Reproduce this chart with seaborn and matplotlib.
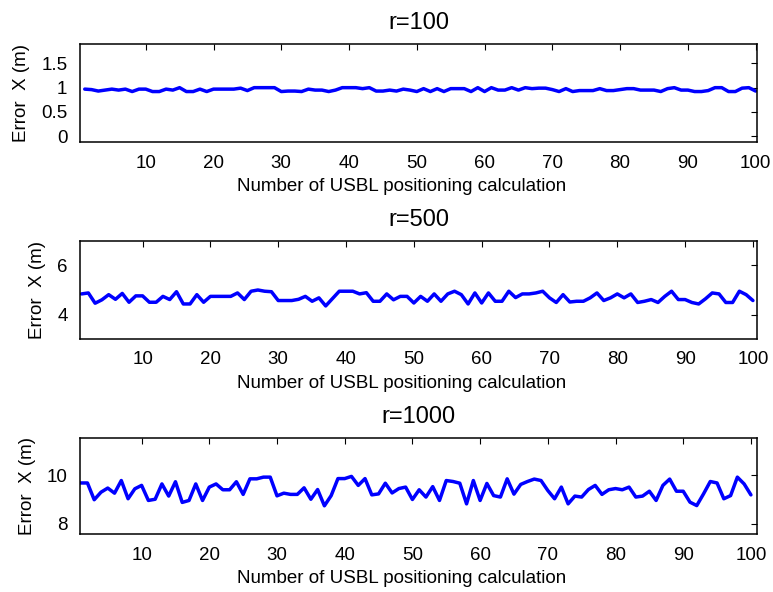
import numpy as np
import pandas as pd
import matplotlib
matplotlib.use('Agg')
import matplotlib.pyplot as plt
import seaborn as sns

# Error in X for each range
calc_index = list(range(1, 101))

error_r100 = [
    0.97, 0.96, 0.93, 0.95, 0.97, 0.95, 0.97, 0.92, 0.97, 0.97,
    0.92, 0.92, 0.97, 0.95, 1.00, 0.92, 0.92, 0.97, 0.92, 0.97,
    0.97, 0.97, 0.97, 0.99, 0.94, 1.00, 1.00, 1.00, 1.00, 0.92,
    0.93, 0.93, 0.92, 0.97, 0.95, 0.95, 0.92, 0.95, 1.00, 1.00,
    1.00, 0.98, 1.00, 0.93, 0.93, 0.95, 0.93, 0.97, 0.95, 0.92,
    0.98, 0.92, 0.98, 0.92, 0.98, 0.98, 0.98, 0.92, 1.00, 0.92,
    1.00, 0.95, 0.95, 1.00, 0.95, 1.00, 0.98, 0.99, 0.99, 0.96,
    0.92, 0.98, 0.92, 0.94, 0.94, 0.94, 0.98, 0.94, 0.94, 0.96,
    0.98, 0.98, 0.95, 0.95, 0.95, 0.92, 0.98, 1.00, 0.95, 0.95,
    0.92, 0.92, 0.94, 1.00, 1.00, 0.92, 0.92, 0.99, 1.00, 0.93,
]

error_r500 = [
    4.84, 4.88, 4.46, 4.60, 4.81, 4.62, 4.86, 4.50, 4.76, 4.76,
    4.50, 4.50, 4.74, 4.61, 4.93, 4.43, 4.43, 4.81, 4.50, 4.74,
    4.74, 4.74, 4.74, 4.88, 4.61, 4.95, 5.00, 4.95, 4.93, 4.57,
    4.57, 4.57, 4.62, 4.74, 4.54, 4.68, 4.35, 4.65, 4.95, 4.95,
    4.95, 4.84, 4.89, 4.54, 4.54, 4.84, 4.60, 4.74, 4.74, 4.47,
    4.74, 4.54, 4.84, 4.54, 4.84, 4.95, 4.81, 4.43, 4.88, 4.47,
    4.88, 4.54, 4.54, 4.95, 4.69, 4.84, 4.84, 4.88, 4.95, 4.68,
    4.49, 4.81, 4.51, 4.54, 4.54, 4.68, 4.88, 4.57, 4.68, 4.84,
    4.68, 4.84, 4.49, 4.54, 4.61, 4.49, 4.74, 4.95, 4.61, 4.61,
    4.49, 4.43, 4.64, 4.88, 4.84, 4.49, 4.49, 4.95, 4.81, 4.57,
]

error_r1000 = [
    9.68, 9.68, 8.99, 9.30, 9.47, 9.26, 9.78, 9.03, 9.44, 9.58,
    8.96, 9.01, 9.64, 9.14, 9.73, 8.88, 8.96, 9.64, 8.96, 9.51,
    9.64, 9.40, 9.40, 9.73, 9.21, 9.85, 9.85, 9.92, 9.92, 9.15,
    9.26, 9.21, 9.21, 9.48, 9.01, 9.41, 8.74, 9.16, 9.86, 9.86,
    9.95, 9.58, 9.86, 9.19, 9.23, 9.67, 9.27, 9.45, 9.51, 9.00,
    9.40, 9.10, 9.53, 8.96, 9.78, 9.74, 9.67, 8.82, 9.78, 8.96,
    9.66, 9.16, 9.10, 9.85, 9.22, 9.62, 9.74, 9.84, 9.78, 9.37,
    9.03, 9.51, 8.82, 9.14, 9.10, 9.41, 9.58, 9.21, 9.40, 9.45,
    9.40, 9.51, 9.10, 9.14, 9.34, 8.96, 9.58, 9.84, 9.34, 9.34,
    8.89, 8.75, 9.23, 9.74, 9.68, 9.03, 9.16, 9.92, 9.64, 9.19,
]

titles = ['r=100', 'r=500', 'r=1000']
series = [error_r100, error_r500, error_r1000]
y_ticks = [[0, 0.5, 1, 1.5], [4, 6], [8, 10]]
y_tick_labels = [['0', '0.5', '1', '1.5'], ['4', '6'], ['8', '10']]
y_limits = [(-0.12, 1.9), (3.0, 7.0), (7.58, 11.53)]
x_limits = [(0.3, 100.2), (0.77, 100.6), (0.9, 100.9)]
x_ticks = list(range(10, 101, 10))

sns.set_style('white')
plt.rcParams['font.family'] = ['Liberation Sans', 'DejaVu Sans']
plt.rcParams['text.color'] = 'black'
plt.rcParams['axes.labelcolor'] = 'black'

fig = plt.figure(figsize=(7.73, 5.92), dpi=100)

# axes boxes in pixels (left, top, right, bottom)
boxes = [(80, 44, 757, 142), (80, 241, 757, 339), (80, 438, 757, 534)]
W, H = 773, 592

for box, title, vals, yt, ytl, ylim, xlim in zip(boxes, titles, series, y_ticks,
                                                 y_tick_labels, y_limits, x_limits):
    l, t, r, b = box
    ax = fig.add_axes([l / W, 1 - b / H, (r - l) / W, (b - t) / H])
    df = pd.DataFrame({'Index': calc_index, 'Error': vals})
    sns.lineplot(data=df, x='Index', y='Error', ax=ax, color='#0000ff', linewidth=2.5)
    ax.set_xlim(*xlim)
    ax.set_ylim(*ylim)
    ax.set_xticks(x_ticks)
    ax.set_yticks(yt)
    ax.set_yticklabels(ytl)
    ax.tick_params(direction='in', length=4.5, width=0.8, top=True, right=True,
                   labelsize=13.5, pad=9, colors='black')
    for s in ax.spines.values():
        s.set_visible(True)
        s.set_color('black')
        s.set_linewidth(1.1)
    ax.set_title(title, fontsize=17, pad=11, color='black')
    ax.set_xlabel('Number of USBL positioning calculation', fontsize=13.5)
    ax.set_ylabel('Error  X (m)', fontsize=13.5, labelpad=8)
    # label sits a bit left of centre in the original
    ax.xaxis.set_label_coords(0.4756, -0.37)

fig.savefig('out.png', dpi=100)
